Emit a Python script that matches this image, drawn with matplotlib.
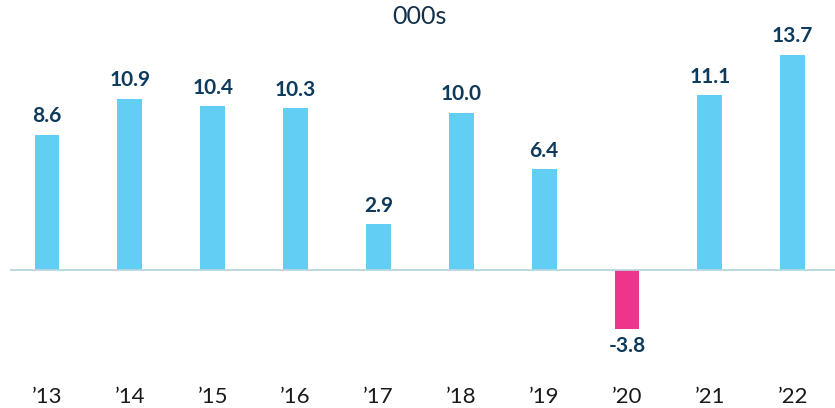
import matplotlib
matplotlib.use("Agg")
import matplotlib.pyplot as plt
from matplotlib.transforms import blended_transform_factory

years = ["’13", "’14", "’15", "’16", "’17", "’18", "’19", "’20", "’21", "’22"]
values = [8.6, 10.9, 10.4, 10.3, 2.9, 10.0, 6.4, -3.8, 11.1, 13.7]
title = "000s"

pos_color = "#63CEF4"
neg_color = "#EF358B"
label_color = "#0E3A5C"

plt.rcParams['font.family'] = ['Lato', 'DejaVu Sans']

fig = plt.figure(figsize=(8.35, 4.08), dpi=100)
W, H = 835, 408
ax = fig.add_axes([10 / W, (408 - 364) / H, 1 - 10 / W, 322 / H])

x = list(range(len(values)))
colors = [pos_color if v >= 0 else neg_color for v in values]
ax.bar(x, values, width=0.30, color=colors, zorder=2)
ax.axhline(0, color="#B9D5DD", lw=1.3, zorder=3)

ax.set_xlim(-0.446, 9.51)
ax.set_ylim(-6, 14.5)

for xi, v in zip(x, values):
    if v >= 0:
        ax.annotate(f"{v:.1f}", (xi, v), xytext=(0, 6), textcoords="offset points",
                    ha="center", va="bottom", fontsize=15, fontweight="bold", color=label_color)
    else:
        ax.annotate(f"{v:.1f}", (xi, v), xytext=(0, -5), textcoords="offset points",
                    ha="center", va="top", fontsize=15, fontweight="bold", color=label_color)

trans = blended_transform_factory(ax.transData, fig.transFigure)
for xi, lab in zip(x, years):
    ax.text(xi, 1 - 397 / H, lab, transform=trans, ha="center", va="center",
            fontsize=16, color="#1a1a1a")

for s in ax.spines.values():
    s.set_visible(False)
ax.set_xticks([])
ax.set_yticks([])

fig.text(419 / W, 1 - 17 / H, title, ha="center", va="center", fontsize=18, color="#12304A")

fig.savefig("out.png", dpi=100)
